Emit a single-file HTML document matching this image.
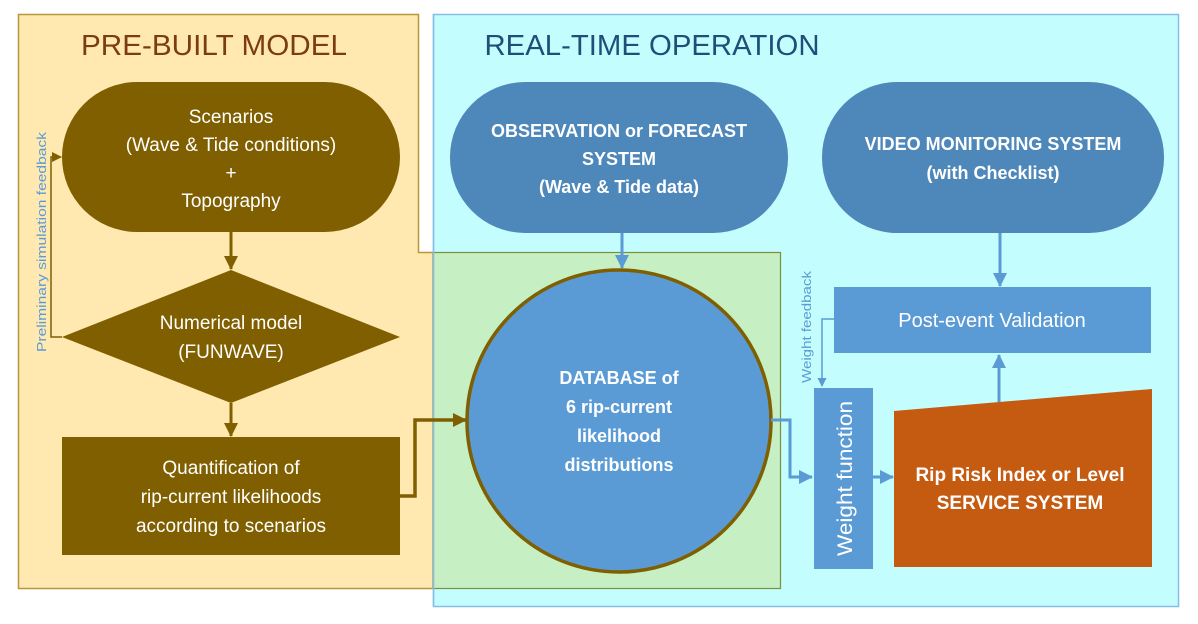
<!DOCTYPE html>
<html><head><meta charset="utf-8"><style>
html,body{margin:0;padding:0;background:#fff;}
svg{display:block;}
text{font-family:"Liberation Sans",sans-serif;}
</style></head><body>
<svg width="1198" height="624" viewBox="0 0 1198 624" xmlns="http://www.w3.org/2000/svg">
<defs>
<marker id="ab" markerWidth="10" markerHeight="10" refX="9" refY="5" orient="auto" markerUnits="userSpaceOnUse"><path d="M0,0 L10,5 L0,10 z" fill="#7f5f00"/></marker>
<marker id="ab2" markerWidth="14" markerHeight="14" refX="13" refY="7" orient="auto" markerUnits="userSpaceOnUse"><path d="M0,0 L14,7 L0,14 z" fill="#7f5f00"/></marker>
<marker id="bl" markerWidth="14" markerHeight="14" refX="13" refY="7" orient="auto" markerUnits="userSpaceOnUse"><path d="M0,0 L14,7 L0,14 z" fill="#5b9bd5"/></marker>
<marker id="bls" markerWidth="9" markerHeight="9" refX="8" refY="4.5" orient="auto" markerUnits="userSpaceOnUse"><path d="M0,0 L9,4.5 L0,9 z" fill="#5b9bd5"/></marker>
</defs>
<polygon points="18.5,14.5 418.5,14.5 418.5,252.5 433,252.5 433,588.5 18.5,588.5" fill="#ffe9b1" stroke="#b8963a" stroke-width="1.5"/>
<rect x="433.5" y="14.5" width="745" height="592" fill="#c4fdfd" stroke="#88bde8" stroke-width="1.5"/>
<rect x="433.5" y="252.5" width="347" height="336" fill="#c6efc3" stroke="#7f8f3a" stroke-width="1.2"/>
<line x1="433.5" y1="14" x2="433.5" y2="606" stroke="#88bde8" stroke-width="1.5"/>
<text x="214" y="55" font-size="29" fill="#7b3c12" text-anchor="middle" textLength="266" lengthAdjust="spacingAndGlyphs">PRE-BUILT MODEL</text>
<text x="652" y="55" font-size="29" fill="#1f4e79" text-anchor="middle" textLength="335" lengthAdjust="spacingAndGlyphs">REAL-TIME OPERATION</text>
<rect x="62" y="82" width="338" height="150" rx="75" fill="#7f5f00"/>
<text x="231" y="123" font-size="19" fill="#fff" text-anchor="middle">Scenarios</text>
<text x="231" y="151" font-size="19" fill="#fff" text-anchor="middle">(Wave &amp; Tide conditions)</text>
<text x="231" y="179" font-size="19" fill="#fff" text-anchor="middle">+</text>
<text x="231" y="207" font-size="19" fill="#fff" text-anchor="middle">Topography</text>
<line x1="231" y1="232" x2="231" y2="269" stroke="#7f5f00" stroke-width="3" marker-end="url(#ab2)"/>
<polygon points="231,270 400,337 231,403 62,337" fill="#7f5f00"/>
<text x="231" y="329" font-size="19" fill="#fff" text-anchor="middle">Numerical model</text>
<text x="231" y="358" font-size="19" fill="#fff" text-anchor="middle">(FUNWAVE)</text>
<line x1="231" y1="403" x2="231" y2="436" stroke="#7f5f00" stroke-width="3" marker-end="url(#ab2)"/>
<rect x="62" y="437" width="338" height="118" fill="#7f5f00"/>
<text x="231" y="474" font-size="19" fill="#fff" text-anchor="middle">Quantification of</text>
<text x="231" y="503" font-size="19" fill="#fff" text-anchor="middle">rip-current likelihoods</text>
<text x="231" y="532" font-size="19" fill="#fff" text-anchor="middle">according to scenarios</text>
<polyline points="62,337 51,337 51,157 61,157" fill="none" stroke="#7f5f00" stroke-width="1.5" marker-end="url(#ab)"/>
<text transform="translate(46,352) rotate(-90)" font-size="13" fill="#5b9bd5" textLength="220" lengthAdjust="spacingAndGlyphs">Preliminary simulation feedback</text>
<polyline points="400,496 415,496 415,420 466,420" fill="none" stroke="#7f5f00" stroke-width="3.5" marker-end="url(#ab2)"/>
<rect x="450" y="82" width="338" height="151" rx="75" fill="#4e87ba"/>
<text x="619" y="137" font-size="18" font-weight="bold" fill="#fff" text-anchor="middle">OBSERVATION or FORECAST</text>
<text x="619" y="165" font-size="18" font-weight="bold" fill="#fff" text-anchor="middle">SYSTEM</text>
<text x="619" y="193" font-size="18" font-weight="bold" fill="#fff" text-anchor="middle">(Wave &amp; Tide data)</text>
<rect x="822" y="82" width="342" height="151" rx="75" fill="#4e87ba"/>
<text x="993" y="150" font-size="18" font-weight="bold" fill="#fff" text-anchor="middle">VIDEO MONITORING SYSTEM</text>
<text x="993" y="179" font-size="18" font-weight="bold" fill="#fff" text-anchor="middle">(with Checklist)</text>
<line x1="622" y1="233" x2="622" y2="268" stroke="#5b9bd5" stroke-width="3" marker-end="url(#bl)"/>
<ellipse cx="619" cy="421" rx="152" ry="151" fill="#5b9bd5" stroke="#7f5f00" stroke-width="3.5"/>
<text x="619" y="384" font-size="18" font-weight="bold" fill="#fff" text-anchor="middle">DATABASE of</text>
<text x="619" y="413" font-size="18" font-weight="bold" fill="#fff" text-anchor="middle">6 rip-current</text>
<text x="619" y="442" font-size="18" font-weight="bold" fill="#fff" text-anchor="middle">likelihood</text>
<text x="619" y="471" font-size="18" font-weight="bold" fill="#fff" text-anchor="middle">distributions</text>
<polyline points="771,420 790,420 790,477 812,477" fill="none" stroke="#5b9bd5" stroke-width="3" marker-end="url(#bl)"/>
<line x1="1000" y1="233" x2="1000" y2="286" stroke="#5b9bd5" stroke-width="3" marker-end="url(#bl)"/>
<rect x="834" y="287" width="317" height="66" fill="#5b9bd5"/>
<text x="992" y="327" font-size="20" fill="#fff" text-anchor="middle">Post-event Validation</text>
<polyline points="834,319 822,319 822,386" fill="none" stroke="#5b9bd5" stroke-width="1.5" marker-end="url(#bls)"/>
<text transform="translate(811,383) rotate(-90)" font-size="13" fill="#5b9bd5" textLength="112" lengthAdjust="spacingAndGlyphs">Weight feedback</text>
<rect x="814" y="388" width="59" height="181" fill="#5b9bd5"/>
<text transform="translate(852,556) rotate(-90)" font-size="21" fill="#fff" textLength="155" lengthAdjust="spacingAndGlyphs">Weight function</text>
<line x1="873" y1="477" x2="893" y2="477" stroke="#5b9bd5" stroke-width="3" marker-end="url(#bl)"/>
<polygon points="894,411 1152,389 1152,567 894,567" fill="#c55a11"/>
<text x="1020" y="481" font-size="19" font-weight="bold" fill="#fff" text-anchor="middle">Rip Risk Index or Level</text>
<text x="1020" y="509" font-size="19" font-weight="bold" fill="#fff" text-anchor="middle">SERVICE SYSTEM</text>
<line x1="999" y1="402" x2="999" y2="355" stroke="#5b9bd5" stroke-width="3" marker-end="url(#bl)"/>
</svg>
</body></html>
